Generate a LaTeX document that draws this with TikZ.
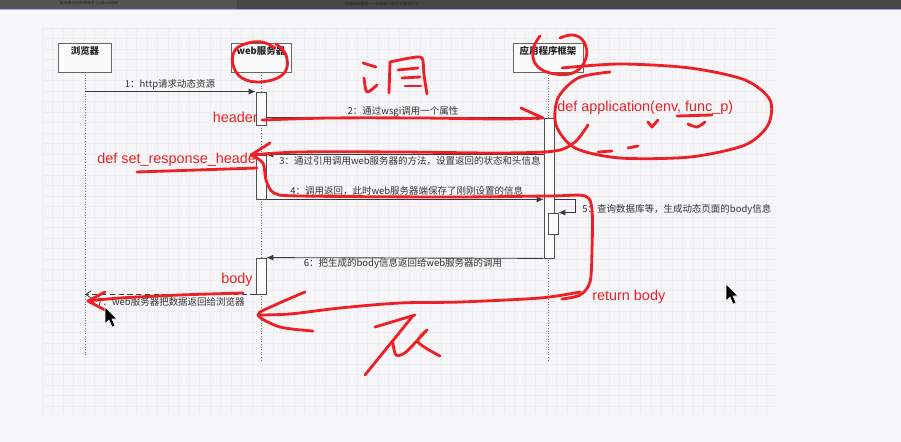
\documentclass[tikz,border=0pt]{standalone}
\usepackage{fontspec}
\setmainfont{Liberation Sans}
\newfontfamily\cjk{Noto Sans CJK SC}
\usetikzlibrary{arrows.meta, positioning, calc}
\definecolor{paper}{HTML}{F6F5F7}
\definecolor{gridc}{HTML}{EDEDF0}
\definecolor{barc}{HTML}{474747}
\definecolor{tabc}{HTML}{545454}
\definecolor{inkred}{HTML}{EE2026}
\definecolor{linec}{HTML}{3A3A3A}
\tikzset{every node/.append style={inner sep=0pt}}
\newcommand{\lblsize}{\fontsize{5.4}{6.5}\selectfont}
\newcommand{\notesize}{\fontsize{8.2}{9.5}\selectfont}

\begin{document}
\begin{tikzpicture}[x=0.02cm, y=-0.02cm,
    actor/.style={rectangle, draw=black!60, fill=white!97!gray, line width=0.5pt,
        inner xsep=2pt, inner ysep=0.08cm, text height=0.16cm, text depth=0.26cm,
        font=\cjk\bfseries\lblsize, text=black!85},
    act/.style={rectangle, draw=linec!90, fill=white!97!gray, line width=0.45pt,
        minimum width=0.2cm},
    lifeline/.style={densely dotted, black!55, line width=0.5pt},
    msg/.style={-{Latex[length=4pt, width=3.5pt]}, linec, line width=0.5pt},
    reply/.style={densely dashed, -{Straight Barb[length=3pt, width=4pt]}, linec, line width=0.45pt},
    lbl/.style={font=\cjk\lblsize, text=black!80},
    note/.style={font=\notesize, text=inkred},
    pen/.style={inkred, line width=1.6pt, line cap=round, line join=round},
    cursor/.pic={\filldraw[black, draw=white, line width=0.3pt]
        (0,0) -- (0,17) -- (4,13) -- (7,20) -- (10,19) -- (7,12) -- (12,12) -- cycle;}
]
\useasboundingbox (0,0) rectangle (901,442);
\fill[paper] (0,0) rectangle (901,442);
% grid
\foreach \gx in {42,52.5,...,776}
    \draw[gridc, line width=0.25pt] (\gx,28) -- (\gx,414);
\foreach \gy in {28,38.5,...,415}
    \draw[gridc, line width=0.25pt] (42,\gy) -- (775,\gy);
% browser bar
\fill[barc] (0,0) rectangle (901,9);
\fill[tabc] (0,0) rectangle (237,9);
\draw[blue!35!white, line width=0.6pt] (0,9.5) -- (901,9.5);
\node[font=\cjk\fontsize{2.2}{2.5}\selectfont, text=black!85] (tab1) at (89,3.5) {服务器动态资源请求 | python高级};
\node[font=\cjk\fontsize{2.3}{2.5}\selectfont, text=black!85] (tab2) at (382,3.5) {百度新闻搜索——全球最大的中文新闻平台};

% participants
\node[actor, minimum width=1.06cm] (brw) at (85,57.5) {浏览器};
\node[actor, minimum width=1.2cm] (web) at (261,57.5) {web服务器};
\node[actor, minimum width=1.4cm] (app) at (548,57.5) {应用程序框架};
\coordinate (endA) at (0,355);
\coordinate (endB) at (0,360);
\draw[lifeline] (brw.south) -- (brw.south |- endA);
\draw[lifeline] (web.south) -- (web.south |- endB);
\draw[lifeline] (app.south) -- (app.south |- endB);

% activations
\node[act, minimum height=0.66cm] (webA1) at (261,108.5) {};
\node[act, minimum height=0.88cm] (webA2) at (261,177) {};
\node[act, minimum height=2.8cm] (appA1) at (549,188) {};
\node[act, minimum height=0.42cm] (appA2) at (553,223.5) {};
\node[act, minimum height=0.72cm] (webA3) at (261,276) {};

% messages
\draw[msg] (brw.south |- webA1.north) -- (webA1.north west);
\draw[msg] (webA1.east |- appA1.north) -- (appA1.north west);
\draw[msg] (appA1.west |- webA2.north) -- (webA2.north east);
\draw[msg] (webA2.south east) -- (appA1.west |- webA2.south);
\draw[msg] (appA1.east |- webA2.south) -- ++(21,0) |- (appA2.north east);
\draw[msg] (appA1.south west) -- (webA3.north east);
\draw[reply] (webA3.south west) -- (brw.south |- webA3.south);

\node[lbl] (l1) at (170,85) {1：http请求动态资源};
\node[lbl] (l2) at (403,112) {2：通过wsgi调用一个属性};
\node[lbl, anchor=west] (l3) at (279,161) {3：通过引用调用web服务器的方法，设置返回的状态和头信息};
\node[lbl, anchor=west] (l4) at (290,191) {4：调用返回，此时web服务器端保存了刚刚设置的信息};
\node[lbl, anchor=west] (l5) at (582,210) {5：查询数据库等，生成动态页面的body信息};
\node[lbl] (l6) at (403,264) {6：把生成的body信息返回给web服务器的调用};
\node[lbl, anchor=west] (l7) at (97,302) {7：web服务器把数据返回给浏览器};

% red notes
\node[note, anchor=east] (hdr) at (258,117) {header};
\node[note, anchor=west] (appdef) at (557,108) {def application(env, func\_p)};
\node[note, anchor=west] (setdef) at (97,160) {def set\_response\_heade};
\node[note, anchor=east] (bodyl) at (253,280) {body};
\node[note, anchor=west] (retb) at (592,297) {return body};

% red strokes
\draw[pen] plot[smooth, tension=0.7] coordinates {(276,44) (286,55) (285,72) (268,81) (246,80) (234,68) (234,52) (245,44) (262,42) (275,48)};
\draw[pen] plot[smooth, tension=0.7] coordinates {(540,36) (533,50) (537,66) (555,74) (575,72) (586,58) (584,42) (573,35) (560,38)};
\draw[pen] plot[smooth] coordinates {(562,68) (620,64) (690,68) (745,80) (770,100) (768,125) (745,145) (690,157) (620,158) (575,148) (556,125) (558,98) (578,78) (610,72)};
\draw[pen] plot[smooth] coordinates {(262,120) (330,118) (420,118) (500,119) (543,118)};
\draw[pen] (521,108) -- (543,118);
\draw[pen] plot[smooth] coordinates {(588,125) (575,142) (555,151) (500,153) (400,152) (300,152) (251,155)};
\draw[pen] (270,143) -- (251,155);
\draw[pen] plot[smooth] coordinates {(251,155) (263,163) (266,180) (274,193) (300,196) (450,197) (550,196) (585,196) (592,210) (592,250) (590,282) (580,295) (562,299)};
\draw[pen] (137,172) -- (257,168);
\draw[pen] (648,122) -- (652,127) -- (658,120);
\draw[pen] (677,116) -- (712,115);
\draw[pen] plot[smooth] coordinates {(688,124) (697,127) (705,122)};
\draw[pen] (598,152) -- (612,151);
\draw[pen] (628,148) -- (638,146);
\draw[pen] plot[smooth] coordinates {(580,292) (540,298) (460,302) (400,303) (340,308) (290,314) (258,315)};
\draw[pen] plot[smooth] coordinates {(305,292) (275,305) (258,315) (280,327) (313,331)};
\draw[pen] plot[smooth] coordinates {(243,293) (180,295) (120,298) (88,301)};
\draw[pen] (105,292) -- (88,301) -- (105,310);
% handwritten 调
\draw[pen] (363,63) -- (376,67);
\draw[pen] plot[smooth] coordinates {(364,78) (367,92) (377,85)};
\draw[pen] (390,62) -- (389,93);
\draw[pen] plot[smooth] coordinates {(390,62) (410,58) (422,58) (424,75) (427,94)};
\draw[pen] (398,70) -- (418,68);
\draw[pen] (402,78) -- (420,77);
\draw[pen] (405,86) -- (421,86);
% handwritten 反
\draw[pen] (375,327) -- (415,315);
\draw[pen] (412,317) -- (365,375);
\draw[pen] plot[smooth] coordinates {(393,343) (396,355) (406,352) (427,330) (418,342) (440,356)};

% mouse cursors
\pic at (105,307) {cursor};
\pic at (726,284) {cursor};
\end{tikzpicture}
\end{document}
